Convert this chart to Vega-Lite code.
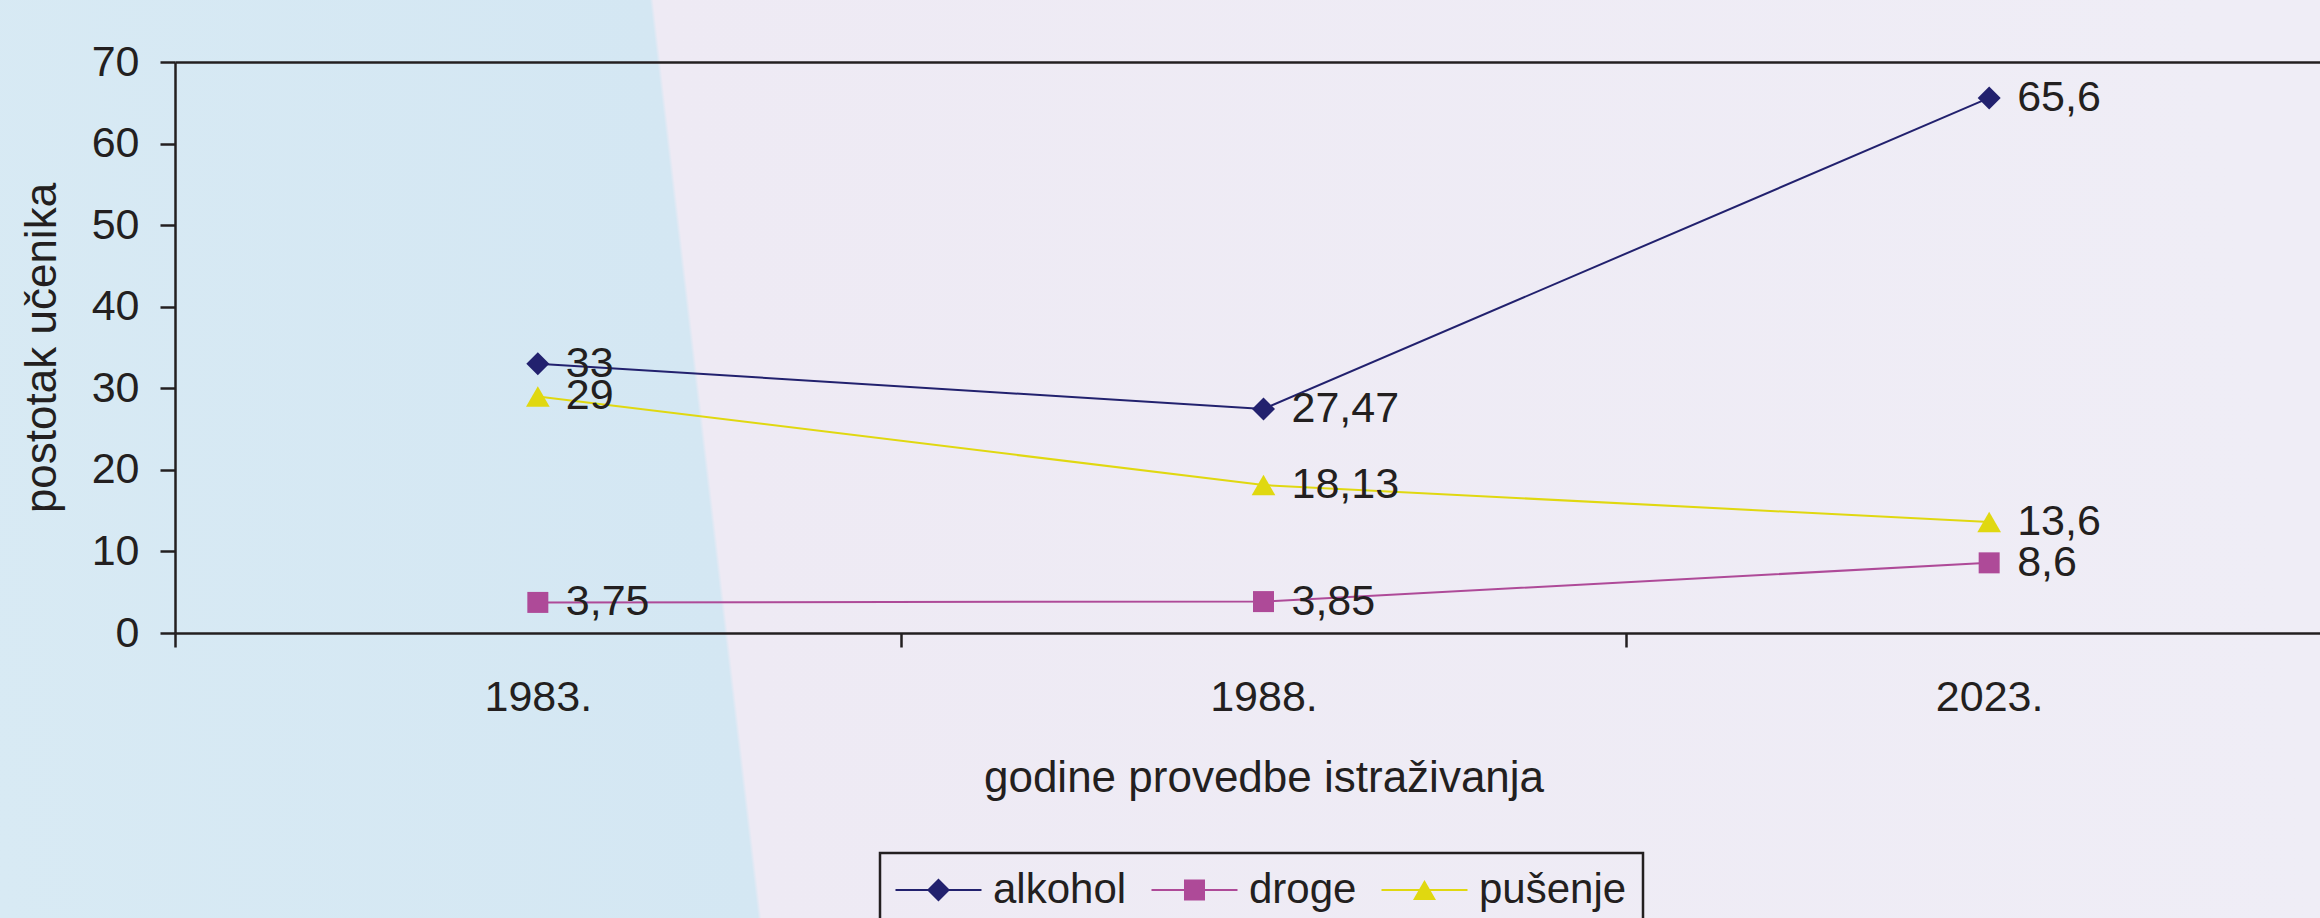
{
  "$schema": "https://vega.github.io/schema/vega-lite/v6.json",
  "width": 2320,
  "height": 918,
  "autosize": {"type": "none"},
  "padding": 0,
  "background": "#E8EAF3",
  "config": {
    "font": "Liberation Sans",
    "view": {"stroke": null},
    "legend": {"strokeWidth": 2.5}
  },
  "resolve": {
    "axis": {"x": "independent", "y": "independent"},
    "legend": {"color": "independent", "shape": "independent"}
  },
  "datasets": {
    "survey": [
      {"godina": "1983.", "serija": "alkohol", "postotak": 33, "oznaka": "33"},
      {"godina": "1988.", "serija": "alkohol", "postotak": 27.47, "oznaka": "27,47"},
      {"godina": "2023.", "serija": "alkohol", "postotak": 65.6, "oznaka": "65,6"},
      {"godina": "1983.", "serija": "droge", "postotak": 3.75, "oznaka": "3,75"},
      {"godina": "1988.", "serija": "droge", "postotak": 3.85, "oznaka": "3,85"},
      {"godina": "2023.", "serija": "droge", "postotak": 8.6, "oznaka": "8,6"},
      {"godina": "1983.", "serija": "pušenje", "postotak": 29, "oznaka": "29"},
      {"godina": "1988.", "serija": "pušenje", "postotak": 18.13, "oznaka": "18,13"},
      {"godina": "2023.", "serija": "pušenje", "postotak": 13.6, "oznaka": "13,6"}
    ]
  },
  "layer": [
    {
      "data": {"values": [{"pozadina": 1}]},
      "mark": {
        "type": "rect",
        "color": {
          "gradient": "linear",
          "x1": 0, "y1": 1, "x2": 1, "y2": 0.9534,
          "stops": [
            {"offset": 0, "color": "#D8EAF4"},
            {"offset": 0.326, "color": "#D4E7F3"},
            {"offset": 0.3275, "color": "#EEEAF4"},
            {"offset": 1, "color": "#EFEDF6"}
          ]
        }
      }
    },
    {
      "data": {"name": "survey"},
      "mark": {"type": "line", "strokeWidth": 2},
      "encoding": {
        "x": {
          "field": "godina", "type": "ordinal", "sort": null, "bandPosition": 0.5,
          "scale": {"type": "band", "domain": ["1983.", "1988.", "2023."], "range": [175, 2352], "paddingInner": 0, "paddingOuter": 0},
          "axis": {
            "orient": "bottom", "offset": -285, "title": "godine provedbe istraživanja", "zindex": 1,
            "tickBand": "extent", "labelAngle": 0, "grid": false,
            "domainColor": "#231F20", "domainWidth": 2.5,
            "tickColor": "#231F20", "tickWidth": 2.5, "tickSize": 14,
            "labelFontSize": 43, "labelColor": "#231F20", "labelPadding": 29,
            "titleFontSize": 44, "titleFontWeight": "normal", "titleColor": "#231F20", "titlePadding": 37
          }
        },
        "y": {
          "field": "postotak", "type": "quantitative",
          "scale": {"domain": [0, 70], "range": [633, 62], "nice": false, "zero": true},
          "axis": {
            "orient": "left", "offset": -175, "title": "postotak učenika", "zindex": 1,
            "values": [0, 10, 20, 30, 40, 50, 60, 70], "grid": false,
            "labelFlush": false, "labelOverlap": false,
            "domainColor": "#231F20", "domainWidth": 2.5,
            "tickColor": "#231F20", "tickWidth": 2.5, "tickSize": 15,
            "labelFontSize": 43, "labelColor": "#231F20", "labelPadding": 21,
            "titleFontSize": 44, "titleFontWeight": "normal", "titleColor": "#231F20", "titlePadding": 27
          }
        },
        "color": {
          "field": "serija", "type": "nominal",
          "scale": {"domain": ["alkohol", "droge", "pušenje"], "range": ["#22216E", "#AE4A98", "#E0D810"]},
          "legend": null
        }
      }
    },
    {
      "data": {"name": "survey"},
      "transform": [{"filter": "datum.serija === 'alkohol'"}],
      "mark": {"type": "point", "shape": "diamond", "filled": true, "opacity": 1, "size": 529},
      "encoding": {
        "x": {
          "field": "godina", "type": "ordinal", "sort": null, "bandPosition": 0.5,
          "axis": {"orient": "top", "offset": -62, "labels": false, "ticks": false, "title": null, "grid": false, "zindex": 1, "domainColor": "#231F20", "domainWidth": 2.5}
        },
        "y": {"field": "postotak", "type": "quantitative", "axis": null},
        "color": {"field": "serija", "type": "nominal", "legend": null}
      }
    },
    {
      "data": {"name": "survey"},
      "transform": [{"filter": "datum.serija === 'droge'"}],
      "mark": {"type": "point", "shape": "square", "filled": true, "opacity": 1, "size": 441},
      "encoding": {
        "x": {"field": "godina", "type": "ordinal", "sort": null, "bandPosition": 0.5, "axis": null},
        "y": {"field": "postotak", "type": "quantitative", "axis": null},
        "color": {"field": "serija", "type": "nominal", "legend": null}
      }
    },
    {
      "data": {"name": "survey"},
      "transform": [{"filter": "datum.serija === 'pušenje'"}],
      "mark": {"type": "point", "shape": "triangle-up", "filled": true, "opacity": 1, "size": 560},
      "encoding": {
        "x": {"field": "godina", "type": "ordinal", "sort": null, "bandPosition": 0.5, "axis": null},
        "y": {"field": "postotak", "type": "quantitative", "axis": null},
        "color": {"field": "serija", "type": "nominal", "legend": null}
      }
    },
    {
      "data": {"name": "survey"},
      "mark": {"type": "text", "align": "left", "baseline": "middle", "dx": 28, "fontSize": 43, "color": "#231F20"},
      "encoding": {
        "x": {"field": "godina", "type": "ordinal", "sort": null, "bandPosition": 0.5, "axis": null},
        "y": {"field": "postotak", "type": "quantitative", "axis": null},
        "text": {"field": "oznaka", "type": "nominal"}
      }
    },
    {
      "data": {"name": "survey"},
      "mark": {"type": "point", "filled": true, "opacity": 0},
      "encoding": {
        "x": {"field": "godina", "type": "ordinal", "sort": null, "bandPosition": 0.5, "axis": null},
        "y": {"field": "postotak", "type": "quantitative", "axis": null},
        "color": {
          "field": "serija", "type": "nominal",
          "legend": {
            "orient": "none", "legendX": 880, "legendY": 853, "direction": "horizontal", "title": null, "zindex": 1,
            "symbolSize": 529, "symbolStrokeWidth": 0, "symbolOpacity": 1,
            "labelFontSize": 42, "labelColor": "#231F20", "labelOffset": 55, "labelLimit": 400,
            "columnPadding": 24, "padding": 16, "strokeColor": "#231F20"
          }
        },
        "shape": {
          "field": "serija", "type": "nominal",
          "scale": {
            "domain": ["alkohol", "droge", "pušenje"],
            "range": [
              "M-1.87,-0.087L5.608,-0.087L5.608,0.087L-1.87,0.087ZM1.869,-1L2.869,0L1.869,1L0.869,0Z",
              "M-1.87,-0.087L5.608,-0.087L5.608,0.087L-1.87,0.087ZM0.956,-0.913L2.782,-0.913L2.782,0.913L0.956,0.913Z",
              "M-1.87,-0.087L5.608,-0.087L5.608,0.087L-1.87,0.087ZM1.869,-0.866L2.869,0.866L0.869,0.866Z"
            ]
          },
          "legend": {
            "orient": "none", "legendX": 880, "legendY": 853, "direction": "horizontal", "title": null, "zindex": 1,
            "symbolSize": 529, "symbolStrokeWidth": 0, "symbolOpacity": 1,
            "labelFontSize": 42, "labelColor": "#231F20", "labelOffset": 55, "labelLimit": 400,
            "columnPadding": 24, "padding": 16, "strokeColor": "#231F20"
          }
        }
      }
    }
  ]
}
